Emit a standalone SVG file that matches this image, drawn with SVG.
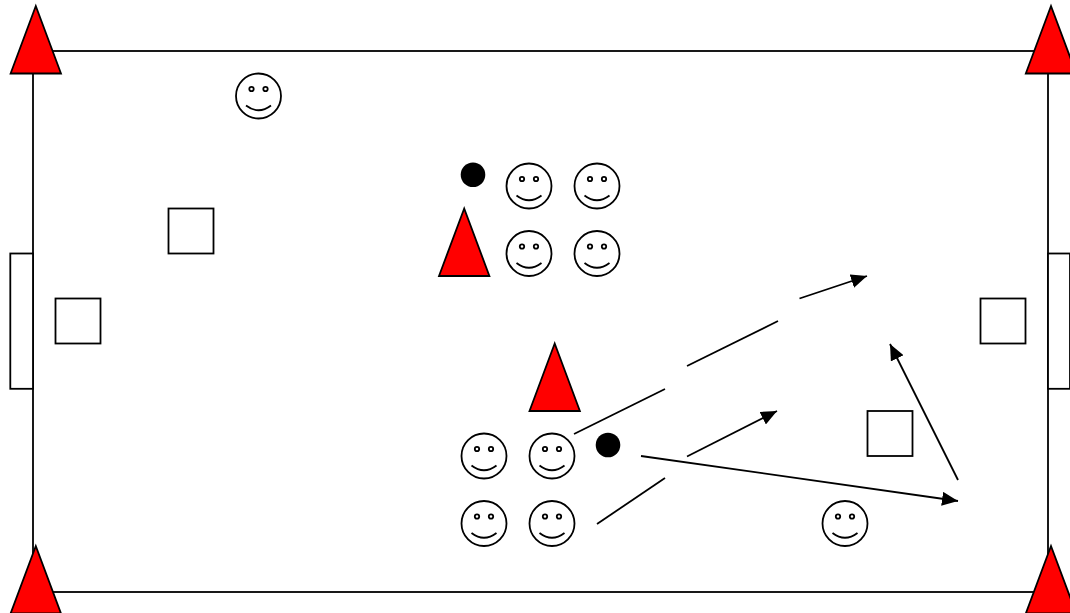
<svg xmlns="http://www.w3.org/2000/svg" width="1070" height="613" viewBox="0 0 1070 613">
<style>
.l{fill:none;stroke:#000;stroke-width:1.8}
.b{fill:#fff;stroke:#000;stroke-width:1.8}
.c{fill:#f00;stroke:#000;stroke-width:1.8;stroke-linejoin:miter}
.a{fill:none;stroke:#000;stroke-width:1.8;marker-end:url(#h)}
.d{fill:#000}
</style>
<defs>
<marker id="h" viewBox="0 0 16 14" refX="16" refY="7" markerWidth="16" markerHeight="14" markerUnits="userSpaceOnUse" orient="auto"><path d="M0 0L16 7L0 14z" fill="#000"/></marker>
<g id="s"><circle r="22.500" class="b"/><circle cx="-7" cy="-7" r="2.200" class="l"/><circle cx="7" cy="-7" r="2.200" class="l"/><path d="M-12.500 9.500Q0 19 12.500 9.500" class="l"/></g>
<path id="t" d="M0 0L25.200 67.500H-25.200z" class="c"/>
</defs>
<g id="field"><rect x="33" y="51" width="1015" height="541" class="l"/></g>
<g id="goal-left"><rect x="10.300" y="253.500" width="22.700" height="135.300" class="b"/></g>
<g id="goal-right"><rect x="1048" y="253.500" width="22" height="135.300" class="b"/></g>
<g id="connectors">
<path d="M574 434L665 389" class="l"/>
<path d="M687 366L778 321" class="l"/>
<path d="M799.500 298.500L867 276" class="a"/>
<path d="M597 524L665 478" class="l"/>
<path d="M687 456.500L777 411" class="a"/>
<path d="M641 456L958 501" class="a"/>
<path d="M958 480L890 344" class="a"/>
</g>
<g id="cone-tl"><use href="#t" x="35.800" y="6"/></g>
<g id="cone-tr"><use href="#t" x="1051" y="6"/></g>
<g id="cone-bl"><use href="#t" x="35.800" y="546"/></g>
<g id="cone-br"><use href="#t" x="1051" y="546"/></g>
<g id="cone-a"><use href="#t" x="464.200" y="208.500"/></g>
<g id="cone-b"><use href="#t" x="554.700" y="343.500"/></g>
<g id="square-a"><rect x="168.500" y="208.500" width="45" height="45" class="b"/></g>
<g id="square-b"><rect x="55.500" y="298.500" width="45" height="45" class="b"/></g>
<g id="square-c"><rect x="980.500" y="298.500" width="45" height="45" class="b"/></g>
<g id="square-d"><rect x="867.500" y="411" width="45" height="45" class="b"/></g>
<g id="ball-a"><circle cx="473" cy="174.700" r="12.300" class="d"/></g>
<g id="ball-b"><circle cx="608" cy="445" r="12.300" class="d"/></g>
<g id="face-1"><use href="#s" x="258.500" y="96"/></g>
<g id="face-2"><use href="#s" x="529" y="186"/></g>
<g id="face-3"><use href="#s" x="597" y="186"/></g>
<g id="face-4"><use href="#s" x="529" y="253.500"/></g>
<g id="face-5"><use href="#s" x="597" y="253.500"/></g>
<g id="face-6"><use href="#s" x="484" y="456"/></g>
<g id="face-7"><use href="#s" x="552" y="456"/></g>
<g id="face-8"><use href="#s" x="484" y="523.500"/></g>
<g id="face-9"><use href="#s" x="552" y="523.500"/></g>
<g id="face-10"><use href="#s" x="845" y="523.500"/></g>
</svg>
